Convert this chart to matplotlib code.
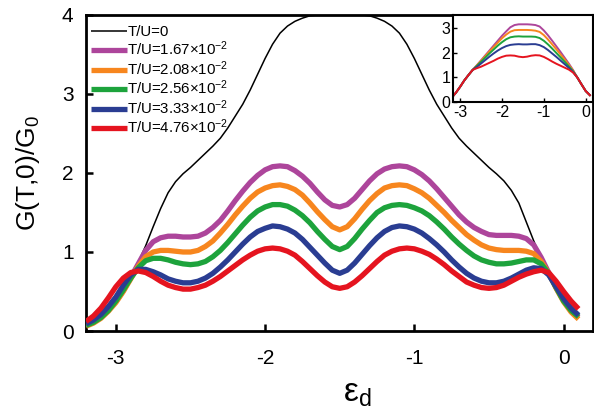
import matplotlib
matplotlib.use("Agg")
import matplotlib.pyplot as plt
import numpy as np

plt.rcParams['font.family'] = ['Liberation Sans', 'DejaVu Sans']
plt.rcParams['mathtext.fontset'] = 'custom'
plt.rcParams['mathtext.rm'] = 'Liberation Sans'
plt.rcParams['mathtext.it'] = 'Liberation Sans'

# ---- main panel data: conductance vs level energy ----
eps = [-3.20, -3.15, -3.10, -3.05, -3.00, -2.95, -2.90, -2.85, -2.80, -2.75,
       -2.70, -2.65, -2.60, -2.55, -2.50, -2.45, -2.40, -2.35, -2.30, -2.25,
       -2.20, -2.15, -2.10, -2.05, -2.00, -1.95, -1.90, -1.85, -1.80, -1.75,
       -1.70, -1.65, -1.60, -1.55, -1.50, -1.45, -1.40, -1.35, -1.30, -1.25,
       -1.20, -1.15, -1.10, -1.05, -1.00, -0.95, -0.90, -0.85, -0.80, -0.75,
       -0.70, -0.65, -0.60, -0.55, -0.50, -0.45, -0.40, -0.35, -0.30, -0.25,
       -0.20, -0.15, -0.10, -0.05, 0.00, 0.05, 0.10]

g_t0 = [0.05, 0.10, 0.17, 0.26, 0.37, 0.51, 0.68, 0.87, 1.08, 1.32,
        1.55, 1.75, 1.89, 1.99, 2.07, 2.16, 2.25, 2.34, 2.44, 2.57,
        2.72, 2.87, 3.05, 3.25, 3.45, 3.63, 3.77, 3.86, 3.92, 3.96,
        3.99, 4.00, 4.00, 4.00, 4.00, 4.00, 4.00, 4.00, 3.99, 3.96,
        3.92, 3.86, 3.77, 3.63, 3.45, 3.25, 3.05, 2.87, 2.72, 2.57,
        2.44, 2.34, 2.25, 2.16, 2.07, 1.99, 1.90, 1.78, 1.62, 1.38,
        1.14, 0.92, 0.72, 0.53, 0.38, 0.26, 0.17]

g_167 = [0.07, 0.12, 0.18, 0.27, 0.37, 0.51, 0.68, 0.85, 1.02, 1.13,
         1.18, 1.20, 1.20, 1.19, 1.19, 1.20, 1.24, 1.31, 1.40, 1.52,
         1.65, 1.77, 1.88, 1.97, 2.04, 2.08, 2.09, 2.08, 2.03, 1.96,
         1.87, 1.76, 1.66, 1.59, 1.57, 1.60, 1.68, 1.79, 1.90, 1.99,
         2.05, 2.08, 2.09, 2.08, 2.04, 1.98, 1.90, 1.80, 1.69, 1.58,
         1.47, 1.38, 1.31, 1.26, 1.22, 1.21, 1.21, 1.21, 1.20, 1.17,
         1.09, 0.93, 0.74, 0.55, 0.39, 0.26, 0.17]

g_208 = [0.06, 0.10, 0.16, 0.25, 0.36, 0.50, 0.66, 0.82, 0.94, 1.00,
         1.02, 1.02, 1.01, 1.00, 1.00, 1.02, 1.07, 1.14, 1.24, 1.35,
         1.47, 1.58, 1.68, 1.76, 1.81, 1.84, 1.85, 1.83, 1.79, 1.72,
         1.62, 1.51, 1.41, 1.32, 1.28, 1.32, 1.42, 1.54, 1.65, 1.74,
         1.81, 1.84, 1.85, 1.84, 1.80, 1.75, 1.68, 1.59, 1.50, 1.40,
         1.31, 1.22, 1.15, 1.09, 1.05, 1.03, 1.02, 1.02, 1.02, 1.01,
         0.98, 0.88, 0.73, 0.54, 0.37, 0.24, 0.15]

g_256 = [0.07, 0.11, 0.17, 0.26, 0.38, 0.52, 0.67, 0.80, 0.89, 0.92,
         0.92, 0.90, 0.87, 0.85, 0.84, 0.85, 0.88, 0.94, 1.02, 1.12,
         1.23, 1.34, 1.44, 1.52, 1.57, 1.60, 1.60, 1.58, 1.53, 1.46,
         1.37, 1.26, 1.16, 1.07, 1.03, 1.07, 1.17, 1.29, 1.40, 1.50,
         1.56, 1.59, 1.60, 1.59, 1.56, 1.52, 1.46, 1.38, 1.29, 1.19,
         1.10, 1.02, 0.95, 0.90, 0.87, 0.85, 0.85, 0.86, 0.88, 0.90,
         0.90, 0.85, 0.73, 0.55, 0.38, 0.26, 0.18]

g_333 = [0.09, 0.14, 0.21, 0.31, 0.43, 0.58, 0.71, 0.78, 0.78, 0.75,
         0.71, 0.66, 0.63, 0.61, 0.61, 0.63, 0.67, 0.73, 0.81, 0.90,
         1.00, 1.10, 1.19, 1.26, 1.30, 1.33, 1.32, 1.29, 1.24, 1.16,
         1.06, 0.96, 0.86, 0.77, 0.73, 0.77, 0.86, 0.97, 1.08, 1.18,
         1.26, 1.31, 1.33, 1.32, 1.29, 1.24, 1.17, 1.09, 1.00, 0.90,
         0.81, 0.73, 0.67, 0.63, 0.61, 0.61, 0.63, 0.67, 0.72, 0.77,
         0.80, 0.79, 0.71, 0.56, 0.41, 0.29, 0.20]

g_476 = [0.12, 0.19, 0.29, 0.42, 0.56, 0.67, 0.74, 0.76, 0.74, 0.69,
         0.63, 0.58, 0.55, 0.53, 0.53, 0.55, 0.58, 0.63, 0.69, 0.76,
         0.83, 0.90, 0.96, 1.01, 1.04, 1.05, 1.04, 1.01, 0.96, 0.88,
         0.79, 0.70, 0.62, 0.56, 0.54, 0.56, 0.62, 0.70, 0.79, 0.88,
         0.96, 1.01, 1.04, 1.05, 1.04, 1.01, 0.97, 0.91, 0.84, 0.76,
         0.69, 0.62, 0.58, 0.55, 0.54, 0.55, 0.58, 0.63, 0.68, 0.72,
         0.75, 0.77, 0.74, 0.63, 0.50, 0.38, 0.28]

labels = ['T/U=0',
          r'T/U=1.67$\times$10$^{-2}$',
          r'T/U=2.08$\times$10$^{-2}$',
          r'T/U=2.56$\times$10$^{-2}$',
          r'T/U=3.33$\times$10$^{-2}$',
          r'T/U=4.76$\times$10$^{-2}$']
colors = ['black', '#AD459B', '#F7861E', '#1DA33C', '#2A3D92', '#E5141F']

# ---- inset data ----
eps_in = [-3.2, -3.1, -3.0, -2.9, -2.8, -2.7, -2.6, -2.5, -2.4, -2.3, -2.2,
          -2.1, -2.0, -1.9, -1.8, -1.7, -1.6, -1.5, -1.4, -1.3, -1.2, -1.1,
          -1.0, -0.9, -0.8, -0.7, -0.6, -0.5, -0.4, -0.3, -0.2, -0.1, 0.0, 0.1]

gi_167 = [0.18, 0.38, 0.62, 0.88, 1.10, 1.31, 1.50, 1.70, 1.90, 2.10, 2.30,
          2.50, 2.70, 2.88, 3.05, 3.14, 3.17, 3.17, 3.17, 3.16, 3.14, 3.08,
          2.92, 2.72, 2.50, 2.27, 2.04, 1.80, 1.56, 1.30, 1.00, 0.72, 0.45, 0.28]
gi_208 = [0.18, 0.38, 0.62, 0.88, 1.10, 1.31, 1.49, 1.68, 1.87, 2.06, 2.24,
          2.42, 2.60, 2.75, 2.87, 2.93, 2.94, 2.94, 2.94, 2.93, 2.91, 2.86,
          2.73, 2.55, 2.35, 2.15, 1.94, 1.73, 1.51, 1.28, 1.00, 0.72, 0.45, 0.28]
gi_256 = [0.18, 0.38, 0.62, 0.88, 1.10, 1.31, 1.47, 1.64, 1.81, 1.98, 2.14,
          2.30, 2.44, 2.56, 2.64, 2.67, 2.68, 2.67, 2.67, 2.67, 2.66, 2.61,
          2.50, 2.35, 2.18, 2.00, 1.82, 1.64, 1.45, 1.25, 1.00, 0.72, 0.45, 0.28]
gi_333 = [0.18, 0.38, 0.62, 0.88, 1.10, 1.31, 1.43, 1.57, 1.71, 1.85, 1.98,
          2.10, 2.20, 2.28, 2.33, 2.35, 2.36, 2.35, 2.35, 2.36, 2.36, 2.32,
          2.24, 2.12, 1.98, 1.84, 1.69, 1.54, 1.39, 1.22, 1.00, 0.72, 0.45, 0.28]
gi_476 = [0.18, 0.38, 0.62, 0.88, 1.10, 1.31, 1.38, 1.44, 1.52, 1.60, 1.68,
          1.77, 1.84, 1.89, 1.90, 1.89, 1.85, 1.83, 1.85, 1.89, 1.91, 1.90,
          1.84, 1.75, 1.65, 1.56, 1.48, 1.40, 1.32, 1.20, 1.00, 0.72, 0.45, 0.28]

fig = plt.figure(figsize=(5.94, 4.12), dpi=100)
ax = fig.add_axes([0.1448, 0.1966, 0.853, 0.767])

main_series = [g_t0, g_167, g_208, g_256, g_333, g_476]
for k, (ys, c, lab) in enumerate(zip(main_series, colors, labels)):
    lw = 1.1 if k == 0 else 3.8
    ax.plot(eps, ys, color=c, lw=lw, label=lab, solid_capstyle='butt',
            zorder=3 + k if k else 2)

ax.set_xlim(-3.2, 0.195)
ax.set_ylim(0, 4)
ax.set_xticks([-3, -2, -1, 0])
ax.set_xticklabels(['-3', '-2', '-1', '0'])
ax.set_yticks([0, 1, 2, 3, 4])
ax.tick_params(direction='in', length=5, width=1.8, labelsize=15)
ax.tick_params(axis='x', pad=13)
ax.tick_params(axis='y', pad=9)
for s in ax.spines.values():
    s.set_linewidth(2.0)

ax.set_ylabel(r'G(T,0)/G$_0$', fontsize=19, labelpad=14)
ax.set_xlabel('\u03b5$_\\mathrm{d}$', fontsize=24)
ax.xaxis.set_label_coords(0.535, -0.15)

leg = ax.legend(loc='upper left', bbox_to_anchor=(-0.004, 0.99), frameon=False,
                fontsize=10.8, handlelength=2.4, handletextpad=0.05,
                labelspacing=0.06, borderaxespad=0.0, borderpad=0.45)

# ---- inset ----
axi = fig.add_axes([453 / 594, 1 - 102 / 412, 140 / 594, 87 / 412])
inset_series = [gi_167, gi_208, gi_256, gi_333, gi_476]
for ys, c in zip(inset_series, colors[1:]):
    axi.plot(eps_in, ys, color=c, lw=1.4)
axi.set_xlim(-3.17, 0.175)
axi.set_ylim(0, 3.55)
axi.set_xticks([-3, -2, -1, 0])
axi.set_xticklabels(['-3', '-2', '-1', '0'])
axi.set_yticks([0, 1, 2, 3])
axi.tick_params(direction='in', length=3, width=1.0, labelsize=11.5, pad=2)
for s in axi.spines.values():
    s.set_linewidth(1.5)

fig.savefig('out.png', dpi=100)
